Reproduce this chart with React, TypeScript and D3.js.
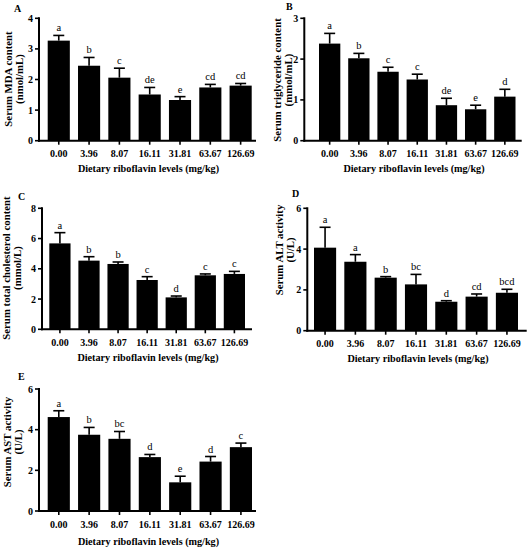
import React from 'react';
import * as d3 from 'd3';

const doses = ['0.00', '3.96', '8.07', '16.11', '31.81', '63.67', '126.69'];

const mdaMean = [3.27, 2.45, 2.06, 1.51, 1.33, 1.74, 1.8];
const mdaErr = [0.17, 0.27, 0.31, 0.23, 0.11, 0.1, 0.07];
const mdaLetters = ['a', 'b', 'c', 'de', 'e', 'cd', 'cd'];

const tgMean = [2.38, 2.02, 1.69, 1.5, 0.87, 0.77, 1.08];
const tgErr = [0.25, 0.12, 0.11, 0.13, 0.17, 0.1, 0.18];
const tgLetters = ['a', 'b', 'c', 'c', 'de', 'e', 'd'];

const tcMean = [5.68, 4.54, 4.32, 3.26, 2.11, 3.57, 3.66];
const tcErr = [0.71, 0.26, 0.13, 0.22, 0.09, 0.09, 0.17];
const tcLetters = ['a', 'b', 'b', 'c', 'd', 'c', 'c'];

const altMean = [4.07, 3.38, 2.6, 2.27, 1.42, 1.67, 1.86];
const altErr = [1.0, 0.35, 0.05, 0.49, 0.05, 0.13, 0.17];
const altLetters = ['a', 'a', 'b', 'bc', 'd', 'cd', 'bcd'];

const astMean = [4.62, 3.75, 3.55, 2.65, 1.41, 2.43, 3.14];
const astErr = [0.31, 0.36, 0.36, 0.13, 0.3, 0.25, 0.2];
const astLetters = ['a', 'b', 'bc', 'd', 'e', 'd', 'c'];

const FONT = '"Liberation Serif", "Times New Roman", serif';

interface PanelProps {
  tag: string;
  tagX: number;
  tagY: number;
  axisX: number;
  axisEnd: number;
  barStart: number;
  barEnd: number;
  yZero: number;
  yTopPx: number;
  yMax: number;
  yStep: number;
  means: number[];
  errs: number[];
  letters: string[];
  titleLines: string[];
  titleX: number;
  titleY: number;
  xTitleY: number;
}

const Panel: React.FC<PanelProps> = (p) => {
  const y = d3.scaleLinear().domain([0, p.yMax]).range([p.yZero, p.yTopPx]);
  const x = d3.scaleBand<string>().domain(doses).range([p.barStart, p.barEnd])
    .paddingInner(0.27).paddingOuter(0);
  const ticks = d3.range(0, p.yMax + 0.001, p.yStep);
  const bw = x.bandwidth();
  const capW = 11;
  const tickLabelY = p.yZero + 16.5;

  return (
    <g fontFamily={FONT}>
      <text x={p.tagX} y={p.tagY} fontSize={10} fontWeight="bold">{p.tag}</text>
      {doses.map((d, i) => {
        const cx = (x(d) || 0) + bw / 2;
        const top = y(p.means[i]);
        const et = y(p.means[i] + p.errs[i]);
        return (
          <g key={d}>
            <rect x={x(d)} y={top} width={bw} height={p.yZero - top} fill="#000" />
            <line x1={cx} x2={cx} y1={top} y2={et} stroke="#000" strokeWidth={1.6} />
            <line x1={cx - capW / 2} x2={cx + capW / 2} y1={et} y2={et} stroke="#000" strokeWidth={1.6} />
            <text x={cx} y={et - 4} fontSize={10.5} textAnchor="middle">{p.letters[i]}</text>
            <line x1={cx} x2={cx} y1={p.yZero} y2={p.yZero + 4} stroke="#000" strokeWidth={1.6} />
            <text x={cx} y={tickLabelY} fontSize={10} fontWeight="bold" textAnchor="middle">{d}</text>
          </g>
        );
      })}
      <line x1={p.axisX} x2={p.axisX} y1={p.yTopPx - 1} y2={p.yZero + 1} stroke="#000" strokeWidth={2} />
      <line x1={p.axisX - 1} x2={p.axisEnd} y1={p.yZero} y2={p.yZero} stroke="#000" strokeWidth={2} />
      {ticks.map((t) => (
        <g key={t}>
          <line x1={p.axisX - 4} x2={p.axisX} y1={y(t)} y2={y(t)} stroke="#000" strokeWidth={1.6} />
          <text x={p.axisX - 6} y={y(t) + 3.5} fontSize={10} fontWeight="bold" textAnchor="end">{t}</text>
        </g>
      ))}
      <text
        transform={`translate(${p.titleX},${p.titleY}) rotate(-90)`}
        fontSize={10.8}
        fontWeight="bold"
        textAnchor="middle"
      >
        {p.titleLines.map((l, i) => (
          <tspan key={i} x={0} dy={i === 0 ? 0 : 10.5}>{l}</tspan>
        ))}
      </text>
      <text
        x={(p.axisX + p.axisEnd) / 2 + 1}
        y={p.xTitleY}
        fontSize={10.2}
        fontWeight="bold"
        textAnchor="middle"
      >
        Dietary riboflavin levels (mg/kg)
      </text>
    </g>
  );
};

export default function App() {
  return (
    <svg width={531} height={550} style={{ position: 'absolute', left: 0, top: 0, background: '#fff' }}>
      <rect width={531} height={550} fill="#fff" />
      <Panel
        tag="A" tagX={14} tagY={12}
        axisX={39} axisEnd={256} barStart={47.7} barEnd={251.7}
        yZero={140.7} yTopPx={18.3} yMax={4} yStep={1}
        means={mdaMean} errs={mdaErr} letters={mdaLetters}
        titleLines={['Serum MDA content', '(nmol/mL)']} titleX={12} titleY={79}
        xTitleY={172}
      />
      <Panel
        tag="B" tagX={286} tagY={10}
        axisX={304.3} axisEnd={521.7} barStart={319} barEnd={515.5}
        yZero={140.7} yTopPx={18.3} yMax={3} yStep={1}
        means={tgMean} errs={tgErr} letters={tgLetters}
        titleLines={['Serum triglyceride content', '(mmol/mL)']} titleX={281} titleY={80}
        xTitleY={172}
      />
      <Panel
        tag="C" tagX={18} tagY={200}
        axisX={42} axisEnd={252} barStart={49.3} barEnd={245}
        yZero={329.3} yTopPx={208.3} yMax={8} yStep={2}
        means={tcMean} errs={tcErr} letters={tcLetters}
        titleLines={['Serum total cholesterol content', '(mmol/L)']} titleX={10} titleY={268}
        xTitleY={361}
      />
      <Panel
        tag="D" tagX={292} tagY={197}
        axisX={307.3} axisEnd={526.7} barStart={314} barEnd={518}
        yZero={330.7} yTopPx={208.3} yMax={6} yStep={2}
        means={altMean} errs={altErr} letters={altLetters}
        titleLines={['Serum ALT activity', '(U/L)']} titleX={283} titleY={250}
        xTitleY={362}
      />
      <Panel
        tag="E" tagX={18} tagY={380}
        axisX={39} axisEnd={256} barStart={47.7} barEnd={252}
        yZero={511} yTopPx={389} yMax={6} yStep={2}
        means={astMean} errs={astErr} letters={astLetters}
        titleLines={['Serum AST activity', '(U/L)']} titleX={11} titleY={442}
        xTitleY={545}
      />
    </svg>
  );
}
